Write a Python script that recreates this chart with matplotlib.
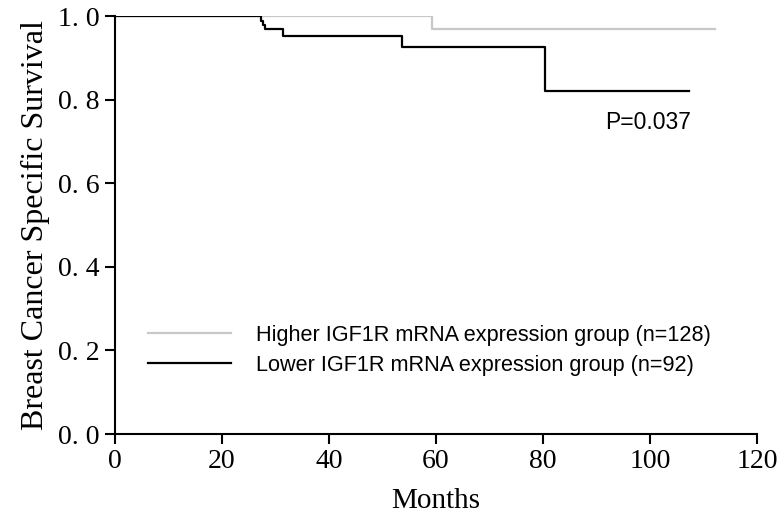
import matplotlib
matplotlib.use("Agg")
import matplotlib.pyplot as plt
from matplotlib.lines import Line2D

# Kaplan-Meier step data
high_times = [0, 59.2, 112.1]
high_surv = [1.0, 0.969, 0.969]
low_times = [0, 27.3, 27.6, 28.0, 31.4, 53.7, 80.4, 107.3]
low_surv = [1.0, 0.989, 0.978, 0.970, 0.953, 0.925, 0.821, 0.821]

x_ticks = [0, 20, 40, 60, 80, 100, 120]
y_ticks = [0.0, 0.2, 0.4, 0.6, 0.8, 1.0]
y_tick_labels = ["0. 0", "0. 2", "0. 4", "0. 6", "0. 8", "1. 0"]
labels = ["Higher IGF1R mRNA expression group (n=128)",
          "Lower IGF1R mRNA expression group (n=92)"]
p_text = "P=0.037"

serif = "Liberation Serif"
sans = "Liberation Sans"

fig = plt.figure(figsize=(7.82, 5.22), dpi=100)
ax = fig.add_axes([115/782, 1 - 434/522, 642/782, 418/522])

ax.step(high_times, high_surv, where="post", color="#c8c8c8", lw=1.6)
ax.step(low_times, low_surv, where="post", color="black", lw=1.6)

ax.set_xlim(0, 120)
ax.set_ylim(0, 1.0)
ax.set_xticks(x_ticks)
ax.set_xticklabels([str(t) for t in x_ticks], family=serif, fontsize=20)
ax.set_yticks(y_ticks)
ax.set_yticklabels(y_tick_labels, family=serif, fontsize=20)
ax.spines["top"].set_visible(False)
ax.spines["right"].set_visible(False)
for s in ("left", "bottom"):
    ax.spines[s].set_linewidth(1.5)
ax.tick_params(direction="out", length=7, width=1.5, pad=4)

ax.set_xlabel("Months", family=serif, fontsize=21, labelpad=10)
ax.set_ylabel("Breast Cancer Specific Survival", family=serif, fontsize=23, labelpad=6)

ax.text(0.830, 0.746, p_text, transform=ax.transAxes, family=sans, fontsize=16.5,
        ha="center", va="center")

handles = [Line2D([], [], color="#c8c8c8", lw=1.6), Line2D([], [], color="black", lw=1.6)]
ax.legend(handles, labels, loc="center left", bbox_to_anchor=(0.035, 0.2),
          frameon=False, handlelength=3.8, handletextpad=1.15, labelspacing=0.4,
          borderpad=0, prop={"family": sans, "size": 15.6})

fig.savefig("out.png", dpi=100)
